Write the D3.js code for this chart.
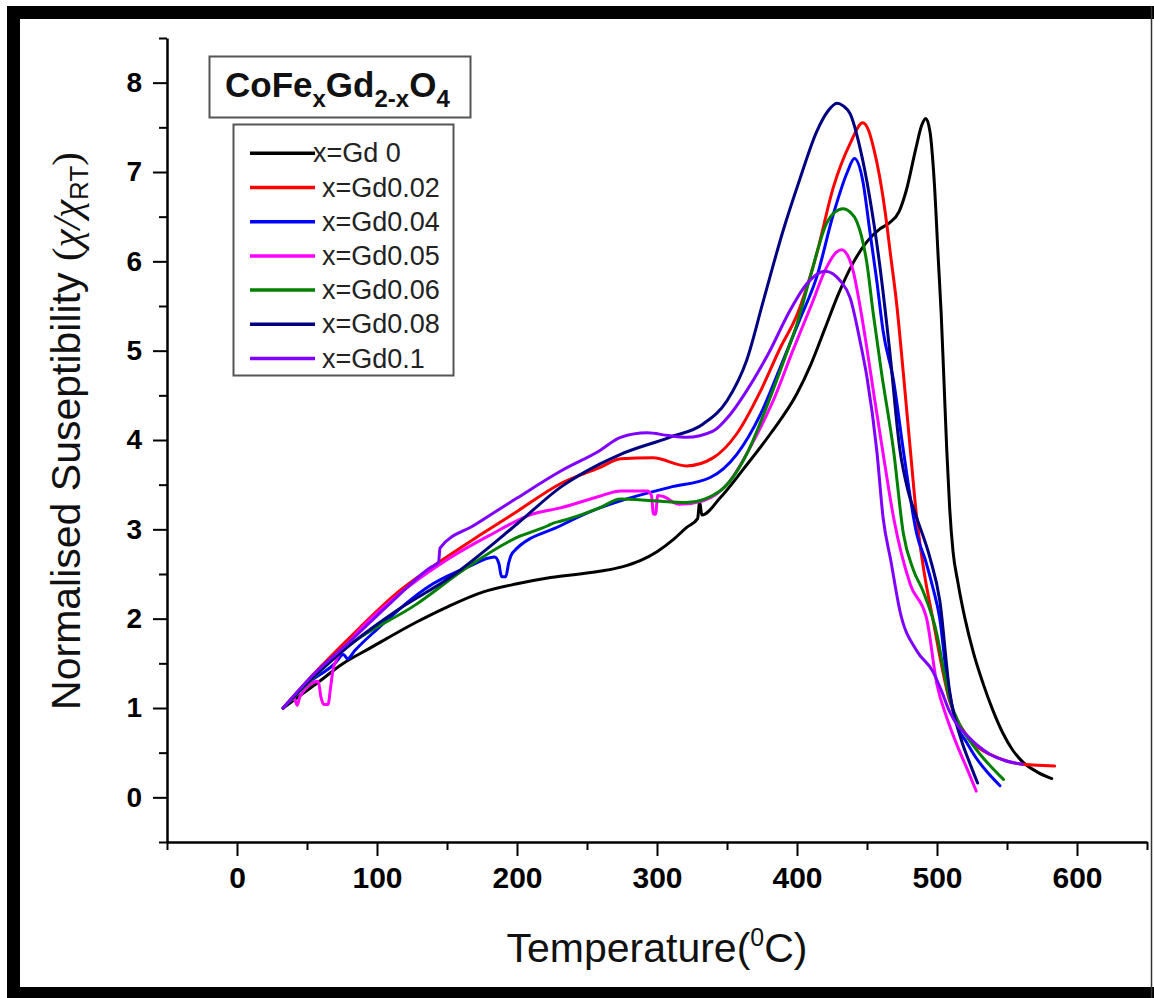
<!DOCTYPE html>
<html>
<head>
<meta charset="utf-8">
<script src="https://cdn.jsdelivr.net/npm/d3@7"></script>
<style>
  body { margin: 0; background: #ffffff; }
  svg { display: block; }
</style>
</head>
<body>
<svg id="chart" width="1154" height="998"></svg>
<script>
// ---------------- DATA ----------------
const xTickValues = [0, 100, 200, 300, 400, 500, 600];
const yTickValues = [0, 1, 2, 3, 4, 5, 6, 7, 8];
const legendLabels = ["x=Gd 0", "x=Gd0.02", "x=Gd0.04", "x=Gd0.05", "x=Gd0.06", "x=Gd0.08", "x=Gd0.1"];
const seriesColors = ["#000000", "#ff0000", "#0000ff", "#ff00ff", "#008000", "#000080", "#8000ff"];

// [temperature °C, normalised susceptibility]
const gd0 = [[33,1.00],[45,1.14],[59,1.30],[75,1.49],[95,1.67],[128,1.96],[150,2.13],[176,2.30],[200,2.39],[224,2.46],[259,2.53],[275,2.58],[288,2.65],[300,2.75],[312,2.89],[321,3.02],[329,3.12],[330.5,3.31],[332,3.16],[345,3.35],[362,3.68],[381,4.07],[400,4.52],[410,4.85],[420,5.25],[430,5.65],[440,5.98],[450,6.22],[459,6.36],[466,6.43],[473,6.56],[478,6.79],[485,7.27],[489,7.52],[492,7.60],[495,7.45],[498,6.90],[501,6.00],[503,5.41],[505,4.65],[507,3.88],[509,3.25],[511.4,2.76],[515,2.40],[520,2.00],[526,1.62],[533,1.27],[540,0.97],[547,0.72],[554,0.53],[561,0.40],[572,0.28],[582,0.21]];
const gd002 = [[33,1.00],[50,1.30],[80,1.78],[116,2.31],[145,2.64],[175,2.95],[200,3.20],[231,3.51],[259,3.69],[274,3.79],[297,3.80],[321,3.71],[340,3.80],[357,4.07],[374,4.55],[388,5.03],[400,5.40],[414,6.08],[426,6.83],[438,7.32],[447,7.55],[451,7.47],[455,7.25],[459,6.95],[463,6.55],[467,6.05],[471,5.55],[476,4.74],[481,3.88],[485.5,3.13],[491,2.50],[497,2.00],[503,1.50],[509,1.08],[515,0.85],[521,0.70],[530,0.55],[538,0.48],[549,0.41],[561,0.37],[572,0.36],[584,0.35]];
const gd004 = [[33,1.00],[50,1.27],[70,1.50],[76,1.60],[79,1.55],[84,1.64],[100,1.88],[140,2.39],[165,2.58],[184,2.69],[187,2.62],[189,2.47],[192,2.47],[194,2.62],[197,2.74],[231,3.04],[259,3.24],[274,3.32],[309,3.47],[338,3.58],[357,3.84],[374,4.29],[388,4.81],[402,5.35],[414,5.82],[426,6.53],[436,7.00],[441,7.15],[447,6.90],[452,6.34],[457,5.78],[461.5,5.22],[469,4.66],[476,3.88],[485.5,2.95],[492,2.64],[497,2.35],[502,2.00],[507,1.35],[514,0.82],[521,0.62],[528,0.44],[536,0.28],[545,0.13]];
const gd005 = [[33,1.00],[41,1.10],[43,1.03],[45,1.13],[58,1.30],[60,1.12],[62,1.04],[65,1.04],[67,1.25],[69,1.46],[81,1.75],[110,2.20],[152,2.68],[180,2.93],[211,3.17],[231,3.24],[259,3.37],[274,3.43],[293,3.43],[296,3.38],[297.5,3.17],[299,3.17],[300.5,3.38],[304,3.37],[316,3.28],[333,3.32],[352,3.54],[369,3.99],[383,4.44],[397,5.00],[410,5.50],[421,5.93],[428,6.10],[432,6.13],[436,6.07],[440,5.90],[445,5.50],[450,5.02],[455,4.50],[461.5,3.85],[469,3.13],[481,2.38],[492.6,2.00],[500,1.26],[507,0.89],[516,0.52],[522,0.30],[528,0.07]];
const gd006 = [[33,1.00],[50,1.27],[80,1.70],[128,2.16],[164,2.57],[200,2.91],[222,3.04],[226,3.07],[231,3.09],[259,3.24],[274,3.34],[297,3.32],[321,3.30],[345,3.43],[364,3.84],[378,4.36],[393,4.99],[400,5.30],[409,5.80],[421,6.42],[427,6.55],[433,6.59],[438,6.55],[442.6,6.45],[450,5.97],[454.5,5.41],[460.5,4.74],[469,3.88],[476,2.95],[483,2.55],[490,2.31],[500,1.82],[505,1.40],[509,1.10],[516,0.82],[524,0.62],[533,0.44],[540,0.32],[547.5,0.20]];
const gd008 = [[33,1.00],[50,1.28],[81,1.71],[115,2.10],[152,2.46],[200,3.06],[231,3.47],[259,3.73],[274,3.84],[309,4.03],[333,4.18],[350,4.44],[364,4.89],[376,5.56],[390,6.34],[402,6.92],[414,7.45],[422,7.68],[428.6,7.77],[433,7.74],[438,7.65],[445,7.27],[452,6.71],[459,5.97],[466,5.03],[473.6,3.88],[479,3.45],[485.5,3.13],[495,2.68],[502,2.20],[509,1.19],[517.6,0.63],[523,0.40],[529,0.16]];
const gd01 = [[33,1.00],[50,1.30],[81,1.75],[110,2.18],[138,2.57],[144,2.63],[145,2.79],[170,3.05],[200,3.35],[231,3.65],[259,3.88],[274,4.03],[293,4.08],[308,4.05],[321,4.03],[340,4.10],[352,4.28],[364,4.55],[380,4.98],[395,5.45],[407,5.75],[420,5.89],[431,5.78],[438,5.59],[445,5.11],[450,4.70],[457,3.88],[461.5,3.13],[467,2.65],[473.6,2.08],[485.5,1.64],[497,1.41],[503,1.20],[509,0.96],[515,0.80],[521,0.70],[529,0.58],[538,0.48],[549,0.41],[561,0.37]];

const seriesData = [gd0, gd002, gd004, gd005, gd006, gd008, gd01];

// ---------------- CHART ----------------
const svg = d3.select("#chart");
const SANS = "'Liberation Sans', Arial, Helvetica, sans-serif";
const SERIF = "'Liberation Serif', 'Times New Roman', serif";

// page frame
svg.append("rect").attr("x", 0).attr("y", 0).attr("width", 1154).attr("height", 998).attr("fill", "#fff");
svg.append("rect").attr("x", 7).attr("y", 6).attr("width", 1147).attr("height", 13).attr("fill", "#000");
svg.append("rect").attr("x", 7).attr("y", 6).attr("width", 13).attr("height", 992).attr("fill", "#000");
svg.append("rect").attr("x", 7).attr("y", 987).attr("width", 1147).attr("height", 11).attr("fill", "#000");
svg.append("line").attr("x1", 1151.5).attr("x2", 1151.5).attr("y1", 6).attr("y2", 998)
  .attr("stroke", "#333").attr("stroke-width", 1.5);

const x = d3.scaleLinear().domain([-50, 650]).range([167, 1147]);
const y = d3.scaleLinear().domain([-0.5, 8.5]).range([842, 38]);

function styleAxis(g, size) {
  g.attr("font-family", SANS).attr("font-size", size).attr("font-weight", "bold");
  g.selectAll("line").attr("stroke", "#000").attr("stroke-width", 2);
  g.selectAll("path.domain").attr("stroke", "#000").attr("stroke-width", 2.5);
  g.selectAll("text").attr("fill", "#000");
}

// minor ticks
const yMinor = d3.range(-0.5, 8.51, 0.5).filter(v => !Number.isInteger(v));
const xMinor = d3.range(-50, 651, 50).filter(v => v % 100 !== 0);

svg.append("g").attr("transform", "translate(167,0)")
  .call(d3.axisLeft(y).tickValues(yMinor).tickSize(8).tickFormat(""))
  .call(g => g.select(".domain").remove()).call(g => styleAxis(g, 28));
svg.append("g").attr("transform", "translate(0,842)")
  .call(d3.axisBottom(x).tickValues(xMinor).tickSize(8).tickFormat(""))
  .call(g => g.select(".domain").remove()).call(g => styleAxis(g, 30));

// major axes
svg.append("g").attr("transform", "translate(167,0)")
  .call(d3.axisLeft(y).tickValues(yTickValues).tickSize(14).tickSizeOuter(0).tickPadding(11).tickFormat(d3.format("d")))
  .call(g => styleAxis(g, 28));
svg.append("g").attr("transform", "translate(0,842)")
  .call(d3.axisBottom(x).tickValues(xTickValues).tickSize(14).tickSizeOuter(0).tickPadding(11).tickFormat(d3.format("d")))
  .call(g => styleAxis(g, 30));

// curves
const line = d3.line().x(d => x(d[0])).y(d => y(d[1])).curve(d3.curveMonotoneX);
svg.append("g").selectAll("path").data(seriesData).join("path")
  .attr("d", line).attr("fill", "none")
  .attr("stroke", (d, i) => seriesColors[i])
  .attr("stroke-width", 3).attr("stroke-linejoin", "round").attr("stroke-linecap", "round");

// title box
svg.append("rect").attr("x", 209.5).attr("y", 56.5).attr("width", 261).attr("height", 61)
  .attr("fill", "#fff").attr("stroke", "#555").attr("stroke-width", 2);
const title = svg.append("text").attr("x", 225).attr("y", 97)
  .attr("font-family", SANS).attr("font-weight", "bold").attr("font-size", 35).attr("fill", "#111");
title.append("tspan").text("CoFe");
title.append("tspan").attr("font-size", 24).attr("dy", 10).text("x");
title.append("tspan").attr("dy", -10).text("Gd");
title.append("tspan").attr("font-size", 24).attr("dy", 10).text("2-x");
title.append("tspan").attr("dy", -10).text("O");
title.append("tspan").attr("font-size", 24).attr("dy", 10).text("4");

// legend
svg.append("rect").attr("x", 233.5).attr("y", 124.5).attr("width", 220).attr("height", 251)
  .attr("fill", "#fff").attr("stroke", "#555").attr("stroke-width", 2);
const lg = svg.append("g");
legendLabels.forEach((lab, i) => {
  const ry = 153.3 + i * 34.2;
  lg.append("line").attr("x1", 250).attr("x2", 315).attr("y1", ry).attr("y2", ry)
    .attr("stroke", seriesColors[i]).attr("stroke-width", 3.5);
  lg.append("text").attr("x", i === 0 ? 313 : 322).attr("y", ry + 9)
    .attr("font-family", SANS).attr("font-size", 27).attr("fill", "#222").text(lab);
});

// y axis title
const yt = svg.append("text").attr("transform", "translate(80,431) rotate(-90)")
  .attr("text-anchor", "middle").attr("font-family", SANS).attr("font-size", 41).attr("fill", "#111");
yt.append("tspan").text("Normalised Suseptibility ");
yt.append("tspan").attr("font-family", SERIF).text("(");
yt.append("tspan").attr("font-family", SERIF).attr("font-style", "italic").text("χ/χ");
yt.append("tspan").attr("font-size", 26).attr("dy", 8).text("RT");
yt.append("tspan").attr("font-family", SERIF).attr("dy", -8).text(")");

// x axis title
const xt = svg.append("text").attr("x", 657).attr("y", 962)
  .attr("text-anchor", "middle").attr("font-family", SANS).attr("font-size", 41).attr("fill", "#111");
xt.append("tspan").text("Temperature(");
xt.append("tspan").attr("font-size", 25).attr("dy", -16).text("0");
xt.append("tspan").attr("dy", 16).text("C)");
</script>
</body>
</html>
